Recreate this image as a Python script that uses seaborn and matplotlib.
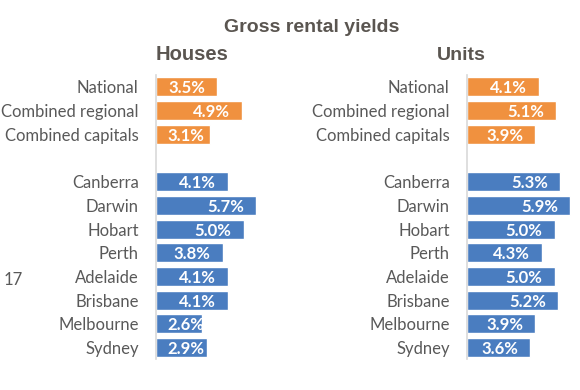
import matplotlib
matplotlib.use("Agg")
import matplotlib.pyplot as plt
import seaborn as sns
import pandas as pd

# ---- data ----
summary_labels = ["National", "Combined regional", "Combined capitals"]
city_labels = ["Canberra", "Darwin", "Hobart", "Perth", "Adelaide", "Brisbane", "Melbourne", "Sydney"]
houses_summary = [3.5, 4.9, 3.1]
houses_cities = [4.1, 5.7, 5.0, 3.8, 4.1, 4.1, 2.6, 2.9]
units_summary = [4.1, 5.1, 3.9]
units_cities = [5.3, 5.9, 5.0, 4.3, 5.0, 5.2, 3.9, 3.6]
title = "Gross rental yields"
panel_titles = ["Houses", "Units"]
side_note = "17"

ORANGE = "#F0913F"
BLUE = "#4A7DC0"
GREY = "#595959"
TITLE_GREY = "#5a5550"
SPACER = " "
order = summary_labels + [SPACER] + city_labels

sns.set_theme(style="white")
plt.rcParams["font.family"] = ["Lato", "DejaVu Sans"]

fig = plt.figure(figsize=(5.8, 3.9), dpi=100)

W = 580.0
H = 390.0
px_per_unit = 17.5
xmax = 6.0
ax_top = 75.0
ax_bot = 359.4


def make_df(summ, cities):
    return pd.DataFrame({
        "label": summary_labels + city_labels,
        "value": summ + cities,
        "group": ["summary"] * len(summ) + ["city"] * len(cities),
    })


def draw(ax, df):
    sns.barplot(data=df, x="value", y="label", hue="group", order=order,
                palette={"summary": ORANGE, "city": BLUE}, dodge=False,
                width=0.8, legend=False, ax=ax, saturation=1)
    ax.set_xlim(0, xmax)
    ax.set_ylim(len(order) - 0.5, -0.5)
    ax.set_xlabel("")
    ax.set_ylabel("")
    ax.set_xticks([])
    for s in ["top", "right", "bottom"]:
        ax.spines[s].set_visible(False)
    ax.spines["left"].set_color("#d9d9d9")
    ax.spines["left"].set_linewidth(1.2)
    ax.tick_params(axis="y", length=0, pad=12.5, labelsize=12, labelcolor=GREY)
    ax.set_facecolor("none")
    pos = {lab: i for i, lab in enumerate(order)}
    for lab, v in zip(df["label"], df["value"]):
        ax.annotate(f"{v:.1f}%", xy=(max(v, 3.45), pos[lab]), xytext=(-8.6, 0),
                    textcoords="offset points", ha="right", va="center_baseline",
                    color="white", fontsize=12, fontweight="bold")


ax1 = fig.add_axes([156 / W, 1 - ax_bot / H, xmax * px_per_unit / W, (ax_bot - ax_top) / H])
draw(ax1, make_df(houses_summary, houses_cities))
ax2 = fig.add_axes([467 / W, 1 - ax_bot / H, xmax * px_per_unit / W, (ax_bot - ax_top) / H])
draw(ax2, make_df(units_summary, units_cities))

tfont = ["Liberation Sans", "DejaVu Sans"]
fig.text(312 / W, 1 - 28 / H, title, ha="center", va="center", fontsize=14,
         fontweight="bold", color=TITLE_GREY, family=tfont)
fig.text(192 / W, 1 - 55 / H, panel_titles[0], ha="center", va="center", fontsize=14.5,
         fontweight="bold", color=TITLE_GREY, family=tfont)
fig.text(461 / W, 1 - 55 / H, panel_titles[1], ha="center", va="center", fontsize=14,
         fontweight="bold", color=TITLE_GREY, family=tfont)
fig.text(4 / W, 1 - 280 / H, side_note, ha="left", va="center", fontsize=12, color=GREY)

fig.savefig("out.png", dpi=100, facecolor="white")
